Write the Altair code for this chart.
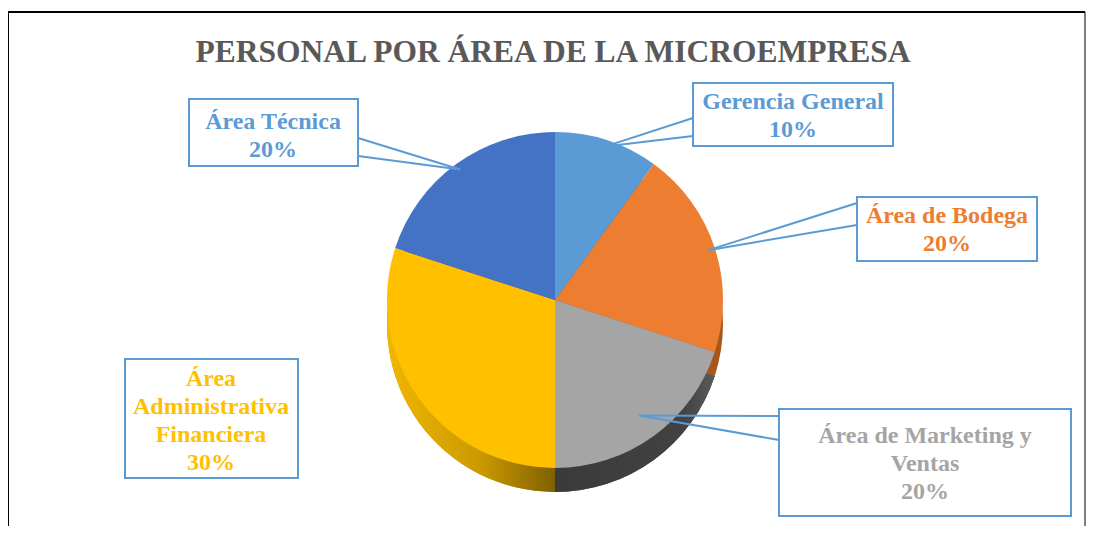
import math
import altair as alt
import pandas as pd

# ---- data ----
categories = ["Gerencia General", "Área de Bodega", "Área de Marketing y Ventas",
              "Área Administrativa Financiera", "Área Técnica"]
percentages = [10, 20, 20, 30, 20]
label_lines = [["Gerencia General"], ["Área de Bodega"], ["Área de Marketing y", "Ventas"],
               ["Área", "Administrativa", "Financiera"], ["Área Técnica"]]
title_text = "PERSONAL POR ÁREA DE LA MICROEMPRESA"

# ---- styles ----
top_colors = ["#5B9BD5", "#ED7D31", "#A5A5A5", "#FFC000", "#4472C4"]
side_colors = ["#3D6E9C", "#A9561B", "#404040", "#C99700", "#2F5597"]
label_colors = ["#5B9BD5", "#ED7D31", "#A5A5A5", "#FFC000", "#5B9BD5"]
BORDER = "#5B9BD5"
SERIF = "Liberation Serif"
LH = 28

# page -> view offset (8px body margin, 4px top padding)
OX, OY = 8, 12
def vx(x): return x - OX
def vy(y): return y - OY

W, H = 1078, 514
CX, CY = vx(555), vy(300)
R = 168
DEPTH = 24

df = pd.DataFrame({
    "cat": categories,
    "pct": percentages,
    "idx": list(range(len(categories))),
    "top": top_colors,
    "side": side_colors,
})

def pie_base(data=df):
    return (alt.Chart(data)
            .transform_window(end="sum(pct)", frame=[None, 0], sort=[alt.SortField("idx")])
            .transform_calculate(start="datum.end - datum.pct"))

theta_scale = alt.Scale(domain=[0, 100], range=[0, 2 * math.pi])

side = pie_base().mark_arc(outerRadius=R).encode(
    theta=alt.Theta("start:Q", scale=theta_scale),
    theta2="end:Q",
    color=alt.Color("side:N", scale=None),
    x=alt.value(CX), y=alt.value(CY + DEPTH),
)

gold_grad = {
    "gradient": "linear", "x1": 0, "x2": 1, "y1": 0, "y2": 0,
    "stops": [{"offset": 0, "color": "#F2B600"}, {"offset": 0.55, "color": "#CC9A00"},
              {"offset": 1, "color": "#7F6000"}],
}
side_gold = (pie_base()
             .transform_filter(alt.datum.cat == categories[3])
             .mark_arc(outerRadius=R, fill=gold_grad)
             .encode(theta=alt.Theta("start:Q", scale=theta_scale), theta2="end:Q",
                     x=alt.value(CX), y=alt.value(CY + DEPTH)))

gray_grad = {
    "gradient": "linear", "x1": 0, "x2": 1, "y1": 0, "y2": 0,
    "stops": [{"offset": 0, "color": "#3A3A3A"}, {"offset": 0.8, "color": "#424242"},
              {"offset": 1, "color": "#5A5A5A"}],
}
side_gray = (pie_base()
             .transform_filter(alt.datum.cat == categories[2])
             .mark_arc(outerRadius=R, fill=gray_grad)
             .encode(theta=alt.Theta("start:Q", scale=theta_scale), theta2="end:Q",
                     x=alt.value(CX), y=alt.value(CY + DEPTH)))

top = pie_base().mark_arc(outerRadius=R).encode(
    theta=alt.Theta("start:Q", scale=theta_scale),
    theta2="end:Q",
    color=alt.Color("top:N", scale=None),
    x=alt.value(CX), y=alt.value(CY),
)

one = pd.DataFrame({"k": [0]})

# frame (left, top, right)
frame = [
    alt.Chart(one).mark_rule(color="black", strokeWidth=2).encode(
        x=alt.value(0), y=alt.value(0), y2=alt.value(H)),
    alt.Chart(one).mark_rule(color="black", strokeWidth=2).encode(
        x=alt.value(0), x2=alt.value(W - 1), y=alt.value(0)),
    alt.Chart(one).mark_rule(color="black", strokeWidth=1).encode(
        x=alt.value(W - 1), y=alt.value(0), y2=alt.value(H)),
]

title = alt.Chart(one).mark_text(
    font=SERIF, fontWeight="bold", fontSize=31.5, color="#595959",
    align="center", baseline="alphabetic",
).encode(x=alt.value(vx(553)), y=alt.value(vy(62)), text=alt.value(title_text))

# label layout (page coordinates): box, text centre, wedge base points, anchor radius factor
layout = [
    dict(box=(693, 83, 893, 146), txt=(793, 116), wedge=((693, 118), (693, 136)), rf=0.96),
    dict(box=(857, 197, 1037, 261), txt=(947, 230), wedge=((857, 203), (857, 225)), rf=0.96),
    dict(box=(779, 409, 1071, 516), txt=(925, 464), wedge=((779, 416), (779, 440)), rf=0.85),
    dict(box=(125, 359, 298, 478), txt=(211, 421), wedge=None, rf=0.9),
    dict(box=(189, 99, 358, 166), txt=(273, 136), wedge=((358, 138), (358, 156)), rf=0.96),
]

labels = []
cum = 0
for i, cat in enumerate(categories):
    mid = (cum + percentages[i] / 2) / 100 * 2 * math.pi
    cum += percentages[i]
    lay = layout[i]
    ax = CX + lay["rf"] * R * math.sin(mid)
    ay = CY - lay["rf"] * R * math.cos(mid)
    if lay["wedge"]:
        for (px, py) in lay["wedge"]:
            labels.append(alt.Chart(one).mark_rule(color=BORDER, strokeWidth=2).encode(
                x=alt.value(vx(px)), y=alt.value(vy(py)), x2=alt.value(ax), y2=alt.value(ay)))
    x1, y1, x2, y2 = lay["box"]
    labels.append(alt.Chart(one).mark_rect(fill="white", stroke=BORDER, strokeWidth=2).encode(
        x=alt.value(vx(x1)), x2=alt.value(vx(x2)), y=alt.value(vy(y1)), y2=alt.value(vy(y2))))
    lines = label_lines[i] + [f"{percentages[i]}%"]
    first_y = lay["txt"][1] - (len(lines) - 1) * LH / 2
    labels.append(alt.Chart(one).mark_text(
        font=SERIF, fontWeight="bold", fontSize=24, lineHeight=LH, lineBreak="\n",
        align="center", baseline="middle", color=label_colors[i],
    ).encode(x=alt.value(vx(lay["txt"][0])), y=alt.value(vy(first_y)),
             text=alt.value("\n".join(lines))))

chart = alt.layer(side, side_gold, side_gray, top, *labels, title, *frame).properties(
    width=W, height=H,
    autosize=alt.AutoSizeParams(type="none"),
    padding={"left": 0, "top": 4, "right": 0, "bottom": 0},
).configure_view(stroke=None).configure(background="white")

chart.save("out.html", embed_options={"renderer": "svg", "actions": False})
